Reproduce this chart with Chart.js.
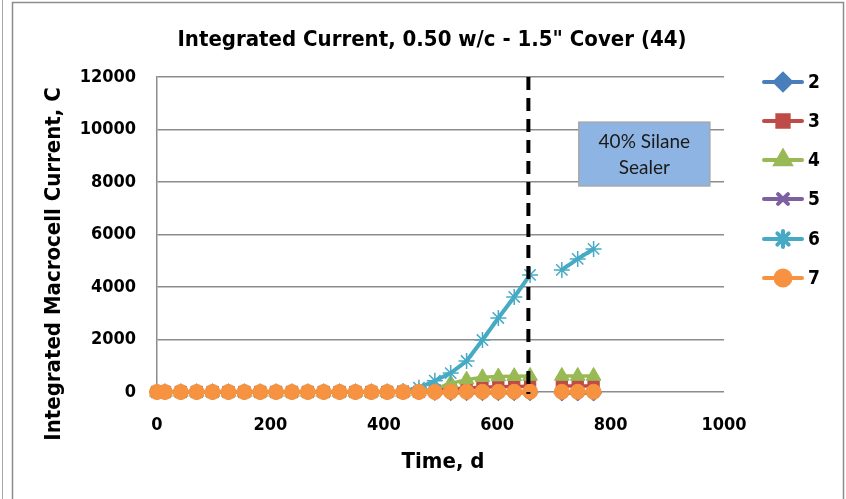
<!DOCTYPE html>
<html>
<head>
<meta charset="utf-8">
<script src="https://cdn.jsdelivr.net/npm/chart.js@4.4.1/dist/chart.umd.min.js"></script>
<style>
  html, body { margin: 0; padding: 0; background: #fff; }
  #wrap { width: 846px; height: 499px; position: relative; }
</style>
</head>
<body>
<div id="wrap"><canvas id="chart" width="846" height="499"></canvas></div>
<script>
// time, days (null gap at 686 between the two runs)
const days = [0, 14, 42, 70, 98, 126, 154, 182, 210, 238, 266, 294, 322, 350, 378,
  406, 434, 462, 490, 518, 546, 574, 602, 630, 658, 686, 714, 742, 770];

// integrated macrocell current, C
const s2 = [0, 0, 0, 0, 0, 0, 0, 0, 0, 0, 0, 0, 0, 0, 0,
  0, 0, 0, -20, -30, -30, -30, -30, -30, -30, null, -40, -40, -40];
const s3 = [0, 0, 0, 0, 0, 0, 0, 0, 0, 0, 0, 0, 0, 0, 0,
  0, 0, 10, 60, 110, 150, 180, 200, 210, 220, null, 230, 230, 230];
const s4 = [0, 0, 0, 0, 0, 0, 0, 0, 0, 0, 0, 0, 0, 0, 0,
  0, 0, 20, 120, 330, 470, 560, 590, 600, 610, null, 610, 610, 610];
const s5 = [0, 0, 0, 0, 0, 0, 0, 0, 0, 0, 0, 0, 0, 0, 0,
  0, 0, 0, -10, -10, -10, -10, -10, -10, -10, null, -20, -20, -20];
const s6 = [0, 0, 0, 0, 0, 0, 0, 0, 0, 0, 0, 0, 0, 0, 0,
  0, 30, 160, 430, 720, 1180, 1980, 2820, 3620, 4460, null, 4650, 5070, 5450];
const s7 = [0, 0, 0, 0, 0, 0, 0, 0, 0, 0, 0, 0, 0, 0, 0,
  0, 0, 0, 0, 10, 10, 10, 10, 10, 10, null, 10, 10, 10];

const seriesNames = ["2", "3", "4", "5", "6", "7"];
const seriesColors = ["#4a7ebb", "#be4b48", "#98b954", "#7d60a0", "#46aac5", "#f69240"];
const seriesMarkers = ["rectRot", "rect", "triangle", "crossRot", "star", "circle"];
const markerSizes = [8, 8, 8.5, 7, 8, 7.5];

const sealerDay = 655;
const yTicks = [0, 2000, 4000, 6000, 8000, 10000, 12000];
const xTicks = [0, 200, 400, 600, 800, 1000];

const BOLD = "'DejaVu Sans Condensed', 'Liberation Sans Narrow', sans-serif";
const PLAIN = "Lato, 'Open Sans', sans-serif";

function pts(vals) {
  return days.map((d, i) => ({ x: d, y: vals[i] }));
}

const allSeries = [s2, s3, s4, s5, s6, s7];
const datasets = allSeries.map((vals, i) => ({
  label: seriesNames[i],
  data: pts(vals),
  borderColor: seriesColors[i],
  backgroundColor: seriesColors[i],
  borderWidth: i === 4 ? 4 : 3.5,
  pointStyle: seriesMarkers[i],
  pointRadius: markerSizes[i],
  pointBorderWidth: (i === 3 || i === 4) ? 1.5 : 1,
  pointBackgroundColor: seriesColors[i],
  pointBorderColor: seriesColors[i],
  tension: 0,
  spanGaps: false,
  clip: false,
  order: 5 - i
}));

const decor = {
  id: "decor",
  beforeDraw(chart) {
    const ctx = chart.ctx;
    ctx.save();
    ctx.fillStyle = "#fff";
    ctx.fillRect(0, 0, chart.width, chart.height);
    ctx.strokeStyle = "#a6a6a6";
    ctx.lineWidth = 1;
    ctx.beginPath();
    ctx.moveTo(2.5, 0); ctx.lineTo(2.5, chart.height);
    ctx.stroke();
    ctx.strokeStyle = "#8c8c8c";
    ctx.lineWidth = 1.5;
    ctx.strokeRect(12.5, 2.5, 831, chart.height + 10);
    ctx.restore();
  },
  afterDatasetsDraw(chart) {
    const ctx = chart.ctx;
    const xs = chart.scales.x, ys = chart.scales.y;
    ctx.save();
    // sealer marker
    const lx = xs.getPixelForValue(sealerDay);
    ctx.strokeStyle = "#000";
    ctx.lineWidth = 4;
    ctx.setLineDash([13, 8]);
    ctx.beginPath();
    ctx.moveTo(lx, ys.getPixelForValue(12000));
    ctx.lineTo(lx, ys.getPixelForValue(0) + 2);
    ctx.stroke();
    ctx.setLineDash([]);
    // text box
    const bx0 = xs.getPixelForValue(744), bx1 = xs.getPixelForValue(975);
    const by0 = ys.getPixelForValue(10280), by1 = ys.getPixelForValue(7850);
    ctx.fillStyle = "#8eb4e3";
    ctx.fillRect(bx0, by0, bx1 - bx0, by1 - by0);
    ctx.strokeStyle = "#a6a6a6";
    ctx.lineWidth = 1.5;
    ctx.strokeRect(bx0, by0, bx1 - bx0, by1 - by0);
    ctx.fillStyle = "#1a1a1a";
    ctx.font = "19px " + PLAIN;
    ctx.textAlign = "center";
    ctx.textBaseline = "middle";
    const cx = (bx0 + bx1) / 2;
    ctx.fillText("40% Silane", cx, by0 + 20);
    ctx.fillText("Sealer", cx, by0 + 46);
    ctx.restore();
  },
  afterDraw(chart) {
    const ctx = chart.ctx;
    ctx.save();
    ctx.fillStyle = "#000";
    ctx.textAlign = "center";
    ctx.textBaseline = "middle";
    ctx.font = "bold 22px " + BOLD;
    ctx.fillText("Integrated Current, 0.50 w/c - 1.5\" Cover (44)", 432, 40);
    ctx.fillText("Time, d", 443, 462);
    ctx.save();
    ctx.translate(54, 264);
    ctx.rotate(-Math.PI / 2);
    ctx.fillText("Integrated Macrocell Current, C", 0, 0);
    ctx.restore();
    // legend
    const legY = [82, 121, 160, 199, 239, 278];
    ctx.textAlign = "left";
    ctx.font = "bold 19px " + BOLD;
    seriesNames.forEach((name, i) => {
      const y = legY[i];
      ctx.strokeStyle = seriesColors[i];
      ctx.lineWidth = 4;
      ctx.lineCap = "round";
      ctx.beginPath();
      ctx.moveTo(764, y); ctx.lineTo(802, y);
      ctx.stroke();
      ctx.fillStyle = seriesColors[i];
      Chart.helpers.drawPoint(ctx, {
        pointStyle: seriesMarkers[i],
        radius: markerSizes[i],
        borderWidth: (i === 3 || i === 4) ? 1.5 : 1,
        rotation: 0
      }, 783, y);
      ctx.fillStyle = "#000";
      ctx.fillText(name, 808, y + 1);
    });
    ctx.restore();
  }
};

new Chart(document.getElementById("chart"), {
  type: "line",
  data: { datasets: datasets },
  options: {
    responsive: false,
    animation: false,
    events: [],
    layout: { padding: { left: 0, right: 122, top: 77, bottom: 0 } },
    plugins: { legend: { display: false }, title: { display: false }, tooltip: { enabled: false } },
    scales: {
      x: {
        type: "linear",
        min: 0,
        max: 1000,
        afterBuildTicks(scale) { scale.ticks = xTicks.map(v => ({ value: v })); },
        afterFit(scale) { scale.height = 107; },
        grid: { display: false, drawTicks: false },
        border: { display: false },
        ticks: { color: "#000", padding: 23, callback: v => String(v), font: { family: BOLD, size: 18, weight: "bold" } }
      },
      y: {
        type: "linear",
        min: 0,
        max: 12000,
        afterBuildTicks(scale) { scale.ticks = yTicks.map(v => ({ value: v })); },
        afterFit(scale) { scale.width = 157; },
        grid: { color: "#8c8c8c", lineWidth: 1.5, drawTicks: false },
        border: { display: true, color: "#8c8c8c", width: 1.5 },
        ticks: { color: "#000", padding: 21, callback: v => String(v), font: { family: BOLD, size: 18, weight: "bold" } }
      }
    }
  },
  plugins: [decor]
});
</script>
</body>
</html>
